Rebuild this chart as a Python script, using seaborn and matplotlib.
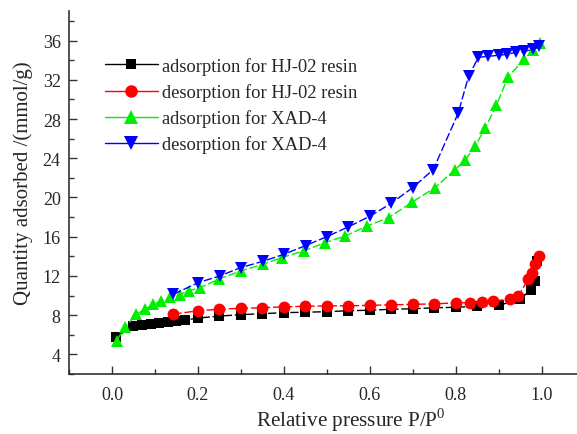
import matplotlib
matplotlib.use("Agg")
import matplotlib.pyplot as plt
import seaborn as sns
import pandas as pd
from matplotlib.lines import Line2D
from matplotlib.ticker import MultipleLocator

# ---- data ----
hj_ads_x = [0.01, 0.05, 0.07, 0.09, 0.11, 0.13, 0.15, 0.17, 0.20, 0.25, 0.30, 0.35, 0.40,
            0.45, 0.50, 0.55, 0.60, 0.65, 0.70, 0.75, 0.80, 0.85, 0.90, 0.95, 0.975, 0.985, 0.99]
hj_ads_y = [5.8, 6.9, 7.0, 7.1, 7.2, 7.3, 7.4, 7.5, 7.7, 7.9, 8.05, 8.15, 8.25,
            8.3, 8.35, 8.45, 8.5, 8.6, 8.65, 8.75, 8.8, 8.9, 9.0, 9.6, 10.6, 11.5, 13.5]

hj_des_x = [0.143, 0.20, 0.25, 0.30, 0.35, 0.40, 0.45, 0.50, 0.55, 0.60, 0.65, 0.70, 0.75,
            0.80, 0.834, 0.861, 0.888, 0.927, 0.946, 0.969, 0.977, 0.985, 0.993]
hj_des_y = [8.1, 8.45, 8.6, 8.7, 8.75, 8.85, 8.9, 8.95, 8.95, 9.0, 9.05, 9.1, 9.15,
            9.25, 9.28, 9.3, 9.45, 9.63, 9.96, 11.66, 12.34, 13.2, 14.0]

xad_ads_x = [0.011, 0.03, 0.057, 0.077, 0.096, 0.115, 0.135, 0.158, 0.18, 0.205, 0.248,
             0.30, 0.352, 0.395, 0.446, 0.496, 0.543, 0.593, 0.644, 0.698, 0.752, 0.799,
             0.822, 0.845, 0.869, 0.895, 0.922, 0.96, 0.98, 0.996]
xad_ads_y = [5.4, 6.75, 8.1, 8.6, 9.1, 9.45, 9.8, 10.1, 10.5, 10.8, 11.66,
             12.5, 13.2, 13.87, 14.54, 15.4, 16.07, 17.08, 17.94, 19.5, 21.0, 22.85,
             23.8, 25.2, 27.1, 29.4, 32.3, 34.1, 35.0, 35.8]

xad_des_x = [0.143, 0.20, 0.251, 0.30, 0.352, 0.40, 0.451, 0.50, 0.55, 0.601, 0.65, 0.70,
             0.748, 0.806, 0.83, 0.853, 0.876, 0.90, 0.92, 0.94, 0.96, 0.98, 0.995]
xad_des_y = [10.13, 11.3, 12.0, 12.85, 13.5, 14.2, 15.1, 16.0, 17.0, 18.1, 19.4, 21.0,
             22.85, 28.6, 32.34, 34.3, 34.4, 34.5, 34.6, 34.8, 34.9, 35.1, 35.4]

labels = ["adsorption for HJ-02 resin", "desorption for HJ-02 resin",
          "adsorption for XAD-4", "desorption for XAD-4"]
colors = ["#000000", "#ff0000", "#00ee00", "#0000ff"]
markers = ["s", "o", "^", "v"]
msizes = [7.5, 8.5, 9, 9]
leg_msizes = [7.5, 9, 9.5, 9.5]

series = [(hj_ads_x, hj_ads_y), (hj_des_x, hj_des_y), (xad_ads_x, xad_ads_y), (xad_des_x, xad_des_y)]

sns.set_style("ticks")
plt.rcParams["font.family"] = ["Liberation Serif", "DejaVu Serif"]
plt.rcParams["mathtext.fontset"] = "custom"
plt.rcParams["mathtext.rm"] = "Liberation Serif"

fig = plt.figure(figsize=(5.77, 4.35), dpi=100)
ax = fig.add_axes([0.1196, 0.138, 0.8934, 0.834])

for (xs, ys), lab, c, m, ms in zip(series, labels, colors, markers, msizes):
    df = pd.DataFrame({"x": xs, "y": ys})
    sns.lineplot(data=df, x="x", y="y", ax=ax, color=c, marker=m, markersize=ms,
                 markeredgewidth=0, linewidth=1.0, linestyle=(0, (6, 2)),
                 sort=False, legend=False)

ax.set_xlim(-0.1, 1.1)
ax.set_ylim(2, 39)
ax.set_xticks([0.0, 0.2, 0.4, 0.6, 0.8, 1.0])
ax.xaxis.set_minor_locator(MultipleLocator(0.1))
ax.set_yticks(range(4, 37, 4))
ax.yaxis.set_minor_locator(MultipleLocator(2))
ax.tick_params(which="both", direction="in", labelsize=13, color="#333333")
ax.tick_params(which="major", length=6, width=1)
ax.tick_params(which="minor", length=3.5, width=1)
ax.tick_params(axis="x", which="major", pad=9)
ax.tick_params(axis="y", which="major", pad=6)
ax.set_xticklabels(["0.0", "0.2", "0.4", "0.6", "0.8", "1.0"])
for s in ["top", "right"]:
    ax.spines[s].set_visible(False)
for s in ["left", "bottom"]:
    ax.spines[s].set_color("#333333")
    ax.spines[s].set_linewidth(1.2)

ax.set_xlabel("Relative pressure P/P$^0$", fontsize=15.2)
ax.set_ylabel("Quantity adsorbed /(mmol/g)", fontsize=15)
ax.xaxis.set_label_coords(0.547, -0.088)
ax.yaxis.set_label_coords(-0.07, 0.529)

handles = [Line2D([], [], color=c, marker=m, markersize=ms, markeredgewidth=0, linewidth=1.0)
           for c, m, ms in zip(colors, markers, leg_msizes)]
ax.legend(handles, labels, loc="upper left", bbox_to_anchor=(0.0555, 0.894), frameon=False,
          fontsize=13.3, handlelength=2.86, handletextpad=0.2, labelspacing=0.45,
          borderaxespad=0.0)

fig.savefig("out.png", dpi=100)
